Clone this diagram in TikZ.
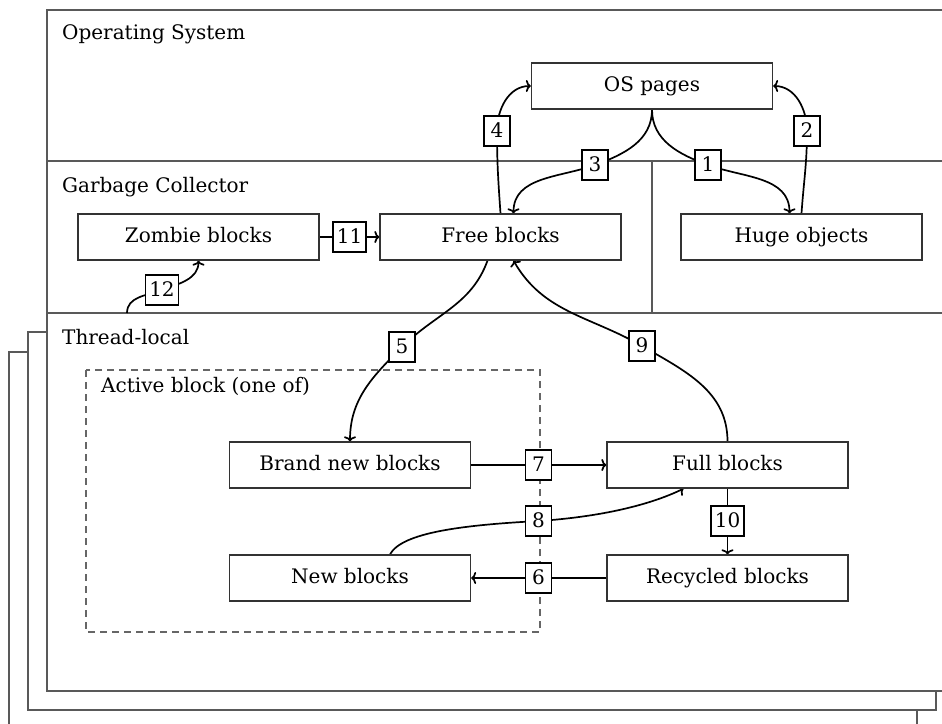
\documentclass[tikz,border=0pt]{standalone}
\usepackage{fontspec}
\setmainfont{DejaVu Serif}
\usetikzlibrary{arrows.meta}
\pgfdeclarelayer{frames}
\pgfdeclarelayer{wires}
\pgfsetlayers{frames,wires,main}

\begin{document}
\begin{tikzpicture}[x=1pt,y=1pt,
  font=\fontsize{20}{24}\selectfont,
  framebox/.style={draw=black!65, line width=1.5pt, fill=white},
  block/.style={draw=black!80, line width=1.3pt, fill=white,
    minimum width=241pt, minimum height=46pt, inner sep=0pt,
    text height=14.5pt, text depth=4pt},
  num/.style={draw=black, line width=1.5pt, fill=white,
    minimum width=26pt, minimum height=30pt, inner xsep=4pt, inner ysep=2pt,
    text height=14.5pt, text depth=1pt},
  wire/.style={line width=1.7pt, black},
  arr/.style={wire, -{To[length=5pt,width=12pt]}},
  title/.style={anchor=base west, inner sep=0pt},
]
\useasboundingbox (0,0) rectangle (942,-723);

% region frames: stacked thread-local copies, OS, GC, active block
\begin{pgfonlayer}{frames}
  \draw[framebox] (9,-352) rectangle (917,-740);
  \draw[framebox] (28,-332) rectangle (936,-710);
  \draw[framebox] (47,-313) rectangle (955,-691);
  \draw[framebox] (47,-10) rectangle (960,-161);
  \draw[framebox] (47,-161) rectangle (652,-313);
  \draw[draw=black!60, line width=1.2pt, dash pattern=on 7pt off 5pt]
    (86,-370) rectangle (540,-632);
\end{pgfonlayer}

\node[title] (ostitle) at (62,-39) {Operating System};
\node[title] (gctitle) at (62,-192) {Garbage Collector};
\node[title] (tltitle) at (62,-344) {Thread-local};
\node[title] (abtitle) at (101,-392) {Active block (one of)};

% blocks
\node[block] (os) at (652,-86) {OS pages};
\node[block] (zombie) at (198.5,-237) {Zombie blocks};
\node[block] (free) at (500.5,-237) {Free blocks};
\node[block] (huge) at (801.5,-237) {Huge objects};
\node[block] (brand) at (350,-465) {Brand new blocks};
\node[block] (full) at (727.5,-465) {Full blocks};
\node[block] (new) at (350,-578) {New blocks};
\node[block] (recycled) at (727.5,-578) {Recycled blocks};

% transition numbers
\node[num] (n1) at (708,-165) {1};
\node[num] (n2) at (807,-131) {2};
\node[num] (n3) at (595,-165) {3};
\node[num] (n4) at (497,-131) {4};
\node[num] (n5) at (402,-347) {5};
\node[num] (n6) at (538.5,-578) {6};
\node[num] (n7) at (538.5,-465) {7};
\node[num] (n8) at (538.5,-521) {8};
\node[num] (n9) at (642,-346) {9};
\node[num] (n10) at (727.5,-521) {10};
\node[num] (n11) at (349.5,-237) {11};
\node[num] (n12) at (162,-290) {12};

\coordinate (gcexit) at (127,-313);

% transitions
\begin{pgfonlayer}{wires}
  \draw[arr] (os.south) to[out=-90,in=160] (n1.center)
    to[out=-20,in=90] ([xshift=-12pt]huge.north);
  \draw[arr] (huge.north) to[out=86,in=-90] (n2.center)
    to[out=90,in=0] (os.east);
  \draw[arr] (os.south) to[out=-90,in=20] (n3.center)
    to[out=200,in=90] ([xshift=13pt]free.north);
  \draw[arr] (free.north) to[out=94,in=-90] (n4.center)
    to[out=90,in=180] (os.west);
  \draw[arr] ([xshift=-13pt]free.south) to[out=250,in=45] (n5.center)
    to[out=225,in=90] (brand.north);
  \draw[arr] (full.north) to[out=90,in=-30] (n9.center)
    to[out=150,in=-60] ([xshift=13pt]free.south);
  \draw[arr] (brand.east) -- (n7.center) -- (full.west);
  \draw[arr] (recycled.west) -- (n6.center) -- (new.east);
  \draw[arr] (full.south) -- (n10.center) -- (recycled.north);
  \draw[arr] ([xshift=40pt]new.north) .. controls +(12,22) and +(-75,-4) ..
    (n8.center) .. controls +(60,4) and +(-35,-17) .. ([xshift=-44pt]full.south);
  \draw[arr] (zombie.east) -- (n11.center) -- (free.west);
  \draw[arr] (gcexit) to[out=90,in=200] (n12.center)
    to[out=20,in=-90] (zombie.south);
\end{pgfonlayer}
\end{tikzpicture}
\end{document}
